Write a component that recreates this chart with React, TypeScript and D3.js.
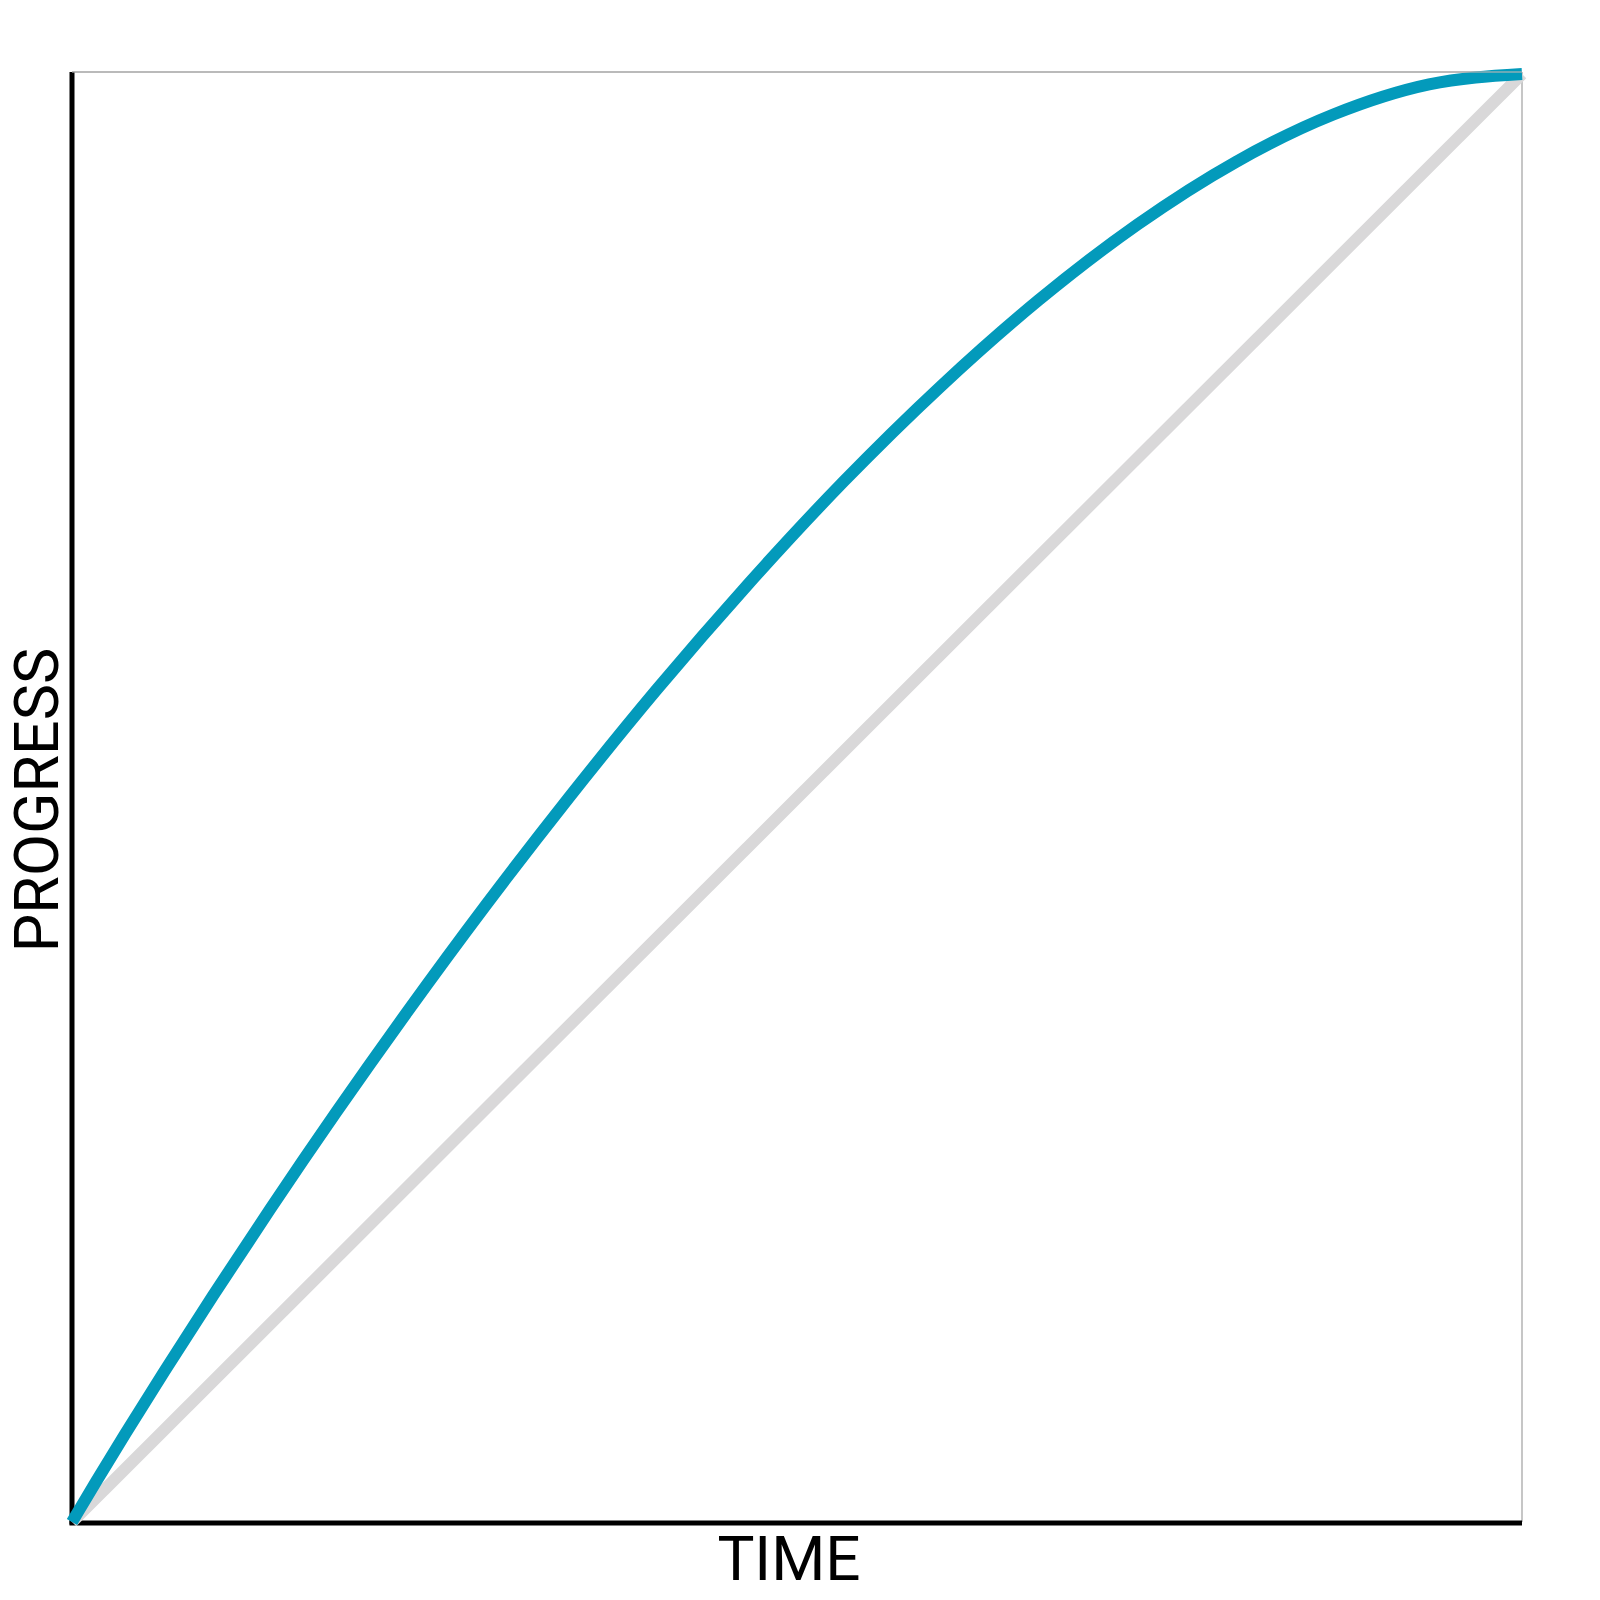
import React from "react";
import * as d3 from "d3";

const timeValues = [0, 0.0043, 0.0167, 0.0367, 0.0637, 0.0972, 0.1366, 0.1814, 0.231, 0.2849, 0.3425, 0.4032, 0.4666, 0.5319, 0.5988, 0.6666, 0.7347, 0.8027, 0.8699, 0.9359, 1];
const progressValues = [0, 0.0073, 0.028, 0.0608, 0.104, 0.1563, 0.216, 0.2818, 0.352, 0.4253, 0.5, 0.5748, 0.648, 0.7183, 0.784, 0.8438, 0.896, 0.9393, 0.972, 0.9928, 1];
const linearTime = [0, 1];
const linearProgress = [0, 1];
const xLabel = "TIME";
const yLabel = "PROGRESS";

export default function App() {
  const W = 1600;
  const H = 1600;
  const left = 72;
  const right = 1522;
  const top = 72;
  const bottom = 1522;

  const x = d3.scaleLinear().domain([0, 1]).range([left, right]);
  const y = d3.scaleLinear().domain([0, 1]).range([bottom, 74]);

  const curveData = timeValues.map((t, i) => [t, progressValues[i]] as [number, number]);
  const linData = linearTime.map((t, i) => [t, linearProgress[i]] as [number, number]);

  const line = d3
    .line<[number, number]>()
    .x((d) => x(d[0]))
    .y((d) => y(d[1]))
    .curve(d3.curveMonotoneX);

  return (
    <svg
      width={W}
      height={H}
      style={{ position: "absolute", left: 0, top: 0, background: "#fff" }}
      fontFamily="Roboto, sans-serif"
    >
      <line x1={left} x2={right} y1={top} y2={top} stroke="#b3b3b3" strokeWidth={1.5} />
      <line x1={right} x2={right} y1={top} y2={bottom} stroke="#b3b3b3" strokeWidth={1.5} />
      <line x1={left} x2={left} y1={top} y2={bottom + 2.5} stroke="#000" strokeWidth={5} />
      <line x1={left - 2.5} x2={right} y1={bottom + 1} y2={bottom + 1} stroke="#000" strokeWidth={5} />
      <path d={line(linData) || ""} fill="none" stroke="#d9d8d9" strokeWidth={12} />
      <path d={line(curveData) || ""} fill="none" stroke="#039abb" strokeWidth={12} />
      <line x1={left} x2={right} y1={top} y2={top} stroke="#b3b3b3" strokeWidth={1.5} opacity={0.8} />
      <text x={789} y={1580} textAnchor="middle" fontSize={62} fill="#000">
        {xLabel}
      </text>
      <text
        transform={`translate(58, ${(top + bottom) / 2 + 3}) rotate(-90)`}
        textAnchor="middle"
        fontSize={61}
        fill="#000"
      >
        {yLabel}
      </text>
    </svg>
  );
}
